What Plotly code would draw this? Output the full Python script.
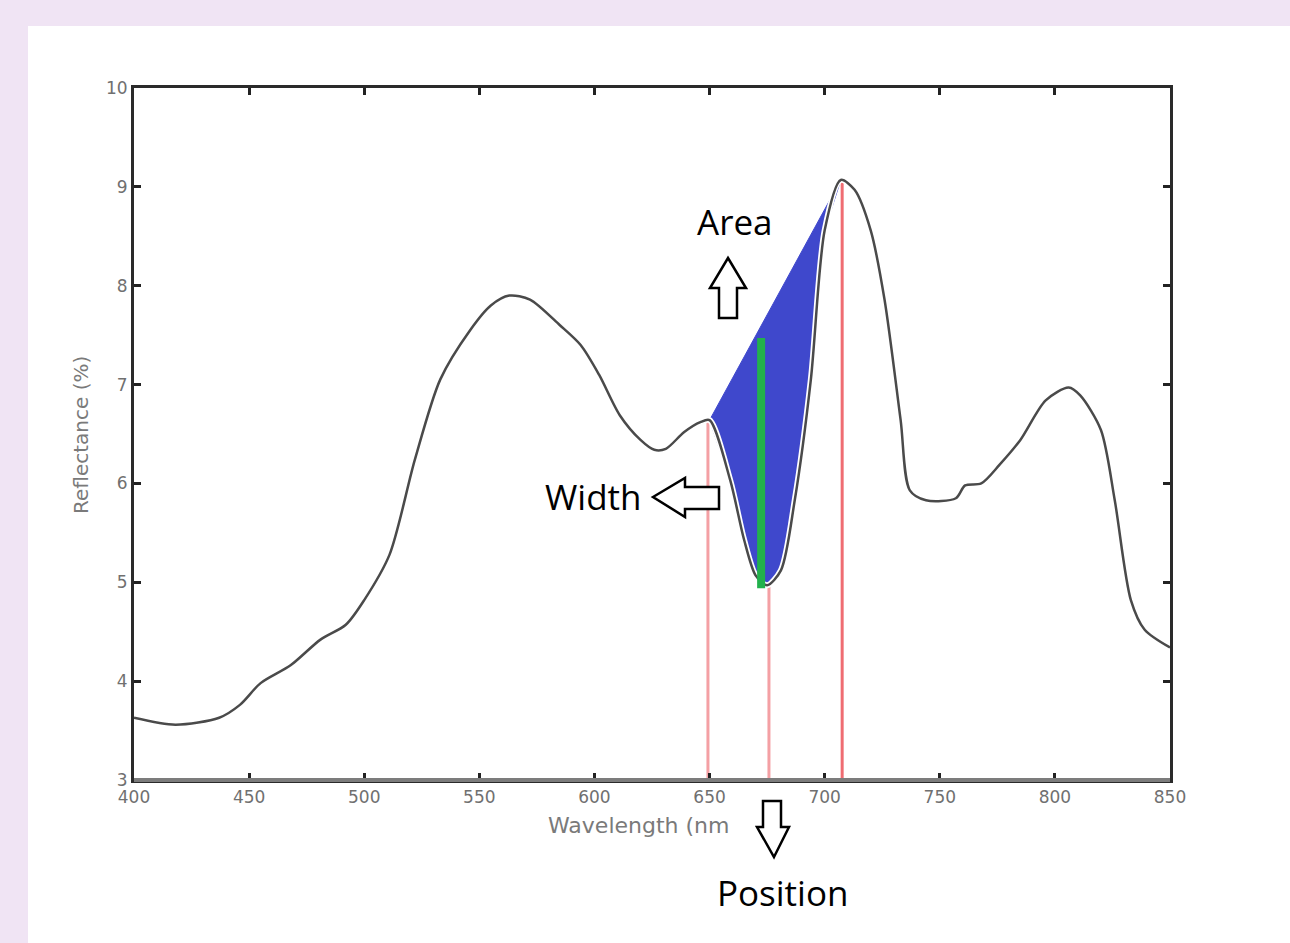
import plotly.graph_objects as go

# ---- data ----
wavelength = [400, 418, 437, 446, 455, 468, 481, 492, 500, 511, 522, 533, 546, 555, 563,
              572, 585, 594, 602, 611, 620, 626, 631, 639, 646, 650, 659, 665, 670, 675,
              681, 687, 694, 700, 707, 713, 720, 726, 733, 737, 744, 757, 761, 768, 776,
              785, 796, 806, 811, 820, 826, 833, 839, 850]
reflectance = [3.63, 3.56, 3.63, 3.76, 3.98, 4.16, 4.42, 4.57, 4.82, 5.28, 6.24, 7.05, 7.55, 7.80, 7.90,
               7.86, 7.60, 7.40, 7.10, 6.69, 6.44, 6.34, 6.35, 6.52, 6.62, 6.64, 6.03, 5.43, 5.07, 4.97,
               5.12, 5.83, 7.05, 8.56, 9.07, 8.97, 8.56, 7.86, 6.64, 5.93, 5.83, 5.85, 5.98, 6.00, 6.19,
               6.44, 6.84, 6.97, 6.89, 6.54, 5.83, 4.82, 4.52, 4.34]

# feature markers (nm / reflectance)
red_lines_x = [649.3, 675.8, 707.6]
red_lines_top = [6.64, 4.97, 9.07]
red_colors = ["#f4a0a4", "#f4a0a4", "#ef6c72"]
green_x = 672.4
green_range = [4.94, 7.47]
area_start, area_end = 650, 707

x_ticks = [400, 450, 500, 550, 600, 650, 700, 750, 800, 850]
y_ticks = [3, 4, 5, 6, 7, 8, 9, 10]

# ---- geometry helpers (pixel -> paper) ----
L, R, T, B = 134, 1170, 88, 780
def px(x):
    return (x - L) / (R - L)
def py(y):
    return (B - y) / (B - T)

fig = go.Figure()

# blue area: straight line between the two shoulders and the curve below it
seg = [(w, r) for w, r in zip(wavelength, reflectance) if area_start <= w <= area_end]
fx = [seg[0][0], seg[-1][0]] + [s[0] for s in reversed(seg)]
fy = [seg[0][1], seg[-1][1]] + [s[1] for s in reversed(seg)]
fig.add_trace(go.Scatter(x=fx, y=fy, fill="toself", fillcolor="#3f48cc",
                         line=dict(color="#3f48cc", width=1), mode="lines",
                         hoverinfo="skip", showlegend=False))

# red vertical lines
for xv, top, c in zip(red_lines_x, red_lines_top, red_colors):
    fig.add_trace(go.Scatter(x=[xv, xv], y=[3, top], mode="lines",
                             line=dict(color=c, width=3), showlegend=False))

# curve: white halo then dark line
fig.add_trace(go.Scatter(x=wavelength, y=reflectance, mode="lines",
                         line=dict(color="white", width=6, shape="spline", smoothing=0.8),
                         showlegend=False, hoverinfo="skip"))
fig.add_trace(go.Scatter(x=wavelength, y=reflectance, mode="lines",
                         line=dict(color="#4a4a4a", width=2.5, shape="spline", smoothing=0.8),
                         showlegend=False))

# green bar
fig.add_trace(go.Scatter(x=[green_x, green_x], y=green_range, mode="lines",
                         line=dict(color="#22b14c", width=8), showlegend=False))

shapes = []
# white panel on lavender background
shapes.append(dict(type="rect", xref="paper", yref="paper", x0=px(28), x1=px(1300),
                   y0=py(950), y1=py(26), fillcolor="white", line=dict(width=0), layer="below"))
# bottom axis in gray
shapes.append(dict(type="line", xref="paper", yref="paper", x0=0, x1=1, y0=0, y1=0,
                   line=dict(color="#7c7c7c", width=4), layer="above"))

def arrow_path(pts):
    return "M " + " L ".join(f"{px(a):.5f},{py(b):.5f}" for a, b in pts) + " Z"

up = [(728, 258), (746, 288), (737, 288), (737, 318), (719, 318), (719, 288), (710, 288)]
left = [(653, 497), (685, 478), (685, 487), (719, 487), (719, 509), (685, 509), (685, 517)]
down = [(774, 857), (789, 827), (781, 827), (781, 801), (763, 801), (763, 827), (757, 827)]
for p in (up, left, down):
    shapes.append(dict(type="path", xref="paper", yref="paper", path=arrow_path(p),
                       fillcolor="white", line=dict(color="black", width=2.5), layer="above"))

ann_font = dict(family="Open Sans", size=35, color="black")
annotations = [
    dict(text="Area", x=px(735), y=py(221), xref="paper", yref="paper", showarrow=False,
         xanchor="center", yanchor="middle", font=ann_font),
    dict(text="Width", x=px(593), y=py(496), xref="paper", yref="paper", showarrow=False,
         xanchor="center", yanchor="middle", font=ann_font),
    dict(text="Position", x=px(782), y=py(893), xref="paper", yref="paper", showarrow=False,
         xanchor="center", yanchor="middle", font=ann_font),
    # axis titles
    dict(text="Wavelength (nm", x=px(546), y=py(825), xref="paper", yref="paper", showarrow=False,
         xanchor="left", yanchor="middle", font=dict(family="DejaVu Sans", size=22, color="#7a7a7a")),
    dict(text="Reflectance (%)", x=px(81), y=py(435), xref="paper", yref="paper", showarrow=False,
         xanchor="center", yanchor="middle", textangle=-90,
         font=dict(family="DejaVu Sans", size=20, color="#7a7a7a")),
]

axis_font = dict(family="DejaVu Sans", size=17, color="#707070")
fig.update_layout(
    width=1290, height=943,
    margin=dict(l=L, r=1290 - R, t=T, b=943 - B),
    paper_bgcolor="#f0e4f4", plot_bgcolor="white",
    shapes=shapes, annotations=annotations,
    showlegend=False,
    xaxis=dict(range=[400, 850], tickvals=x_ticks, ticks="inside", ticklen=7, tickwidth=3,
               tickcolor="#222222", showline=True, linecolor="#2a2a2a", linewidth=3,
               mirror="ticks", showgrid=False, zeroline=False, tickfont=axis_font),
    yaxis=dict(range=[3, 10], tickvals=y_ticks, ticks="inside", ticklen=7, tickwidth=3,
               tickcolor="#222222", showline=True, linecolor="#2a2a2a", linewidth=3,
               mirror="ticks", showgrid=False, zeroline=False, tickfont=axis_font),
)

fig.write_html("out.html", config={"displayModeBar": False})

# remove the default page margin so the figure fills the window exactly
with open("out.html", "r", encoding="utf-8") as f:
    html = f.read()
html = html.replace("<head>", "<head><style>html,body{margin:0;padding:0;overflow:hidden}</style>", 1)
with open("out.html", "w", encoding="utf-8") as f:
    f.write(html)
